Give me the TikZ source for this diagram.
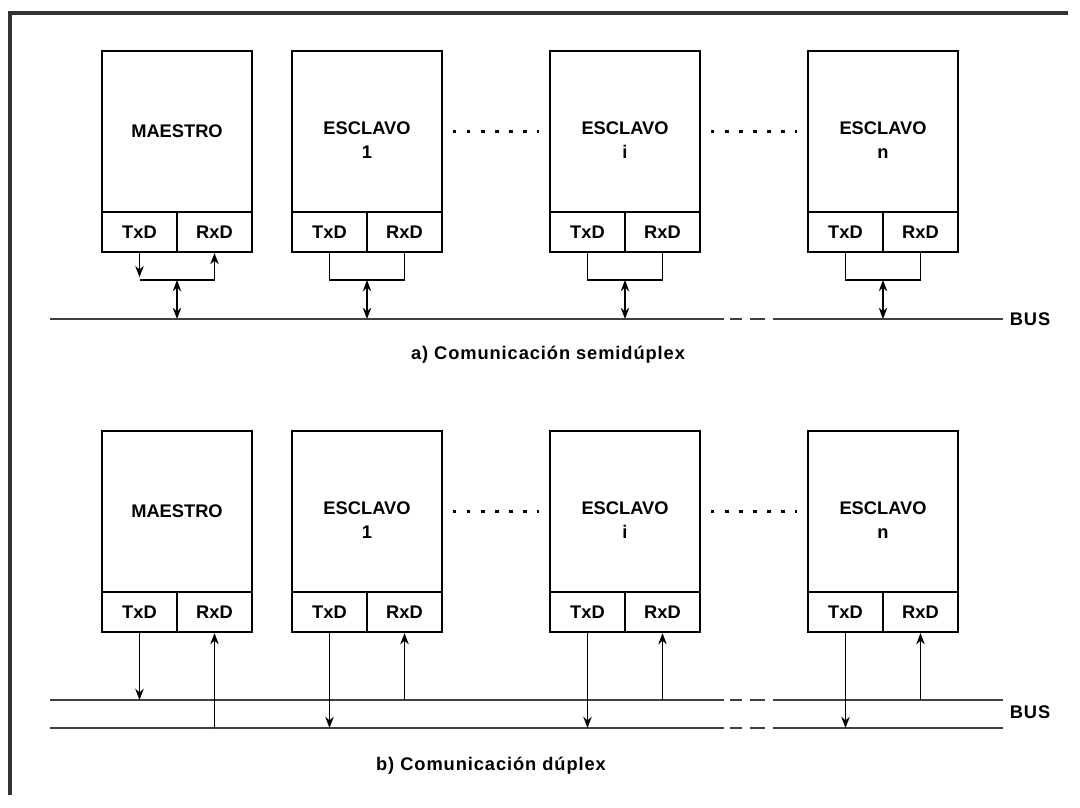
\documentclass[tikz,border=0pt]{standalone}
\usepackage{fontspec}
\setmainfont{Liberation Sans}
\usetikzlibrary{arrows.meta}

\begin{document}
\begin{tikzpicture}[x=0.025cm, y=-0.025cm, >={Stealth[length=8pt,width=6pt]},
  unitbox/.style={draw, line width=1.5pt, minimum width=3.75cm, minimum height=4.025cm,
    inner sep=0pt, align=center, font=\fontsize{13}{17}\selectfont\bfseries},
  portbox/.style={draw, line width=1.5pt, minimum width=1.875cm, minimum height=1cm,
    inner sep=0pt, font=\fontsize{13}{15}\selectfont\bfseries},
  wire/.style={line width=1.2pt},
  busline/.style={line width=2pt, black!75},
  dotrow/.style={line width=2pt, dash pattern=on 2.5pt off 7.5pt, shorten <=7pt, shorten >=7pt},
  caption/.style={font=\fontsize{13}{15}\selectfont\bfseries\addfontfeature{LetterSpace=5}}]

\useasboundingbox (0,0) rectangle (1080,808);
\draw[line width=2.2pt, black!80] (10,795) -- (10,13) -- (1068,13);

% a) semiduplex
\node[unitbox] (aM) at (177,131.5) {MAESTRO};
\node[portbox] (aTxM) at (139.5,232) {TxD};
\node[portbox] (aRxM) at (214.5,232) {RxD};

\node[unitbox] (aS1) at (367,131.5) {\rule{0pt}{21pt}ESCLAVO\\1};
\node[portbox] (aTx1) at (329.5,232) {TxD};
\node[portbox] (aRx1) at (404.5,232) {RxD};

\node[unitbox] (aSi) at (625,131.5) {\rule{0pt}{21pt}ESCLAVO\\i};
\node[portbox] (aTxi) at (587.5,232) {TxD};
\node[portbox] (aRxi) at (662.5,232) {RxD};

\node[unitbox] (aSn) at (883,131.5) {\rule{0pt}{21pt}ESCLAVO\\n};
\node[portbox] (aTxn) at (845.5,232) {TxD};
\node[portbox] (aRxn) at (920.5,232) {RxD};

\draw[dotrow] (aS1.east) -- (aSi.west);
\draw[dotrow] (aSi.east) -- (aSn.west);

\coordinate (busAw) at (50,319);
\coordinate (busAe) at (1003,319);
\draw[busline] (busAw) -- (724,319);
\draw[busline] (730,319) -- (742,319) (750,319) -- (765,319);
\draw[busline] (773,319) -- (busAe);
\node[caption] (aBus) at (1030,319) {BUS};

\coordinate (aBrM) at (177,280);
\coordinate (aBr1) at (367,280);
\coordinate (aBri) at (625,280);
\coordinate (aBrn) at (883,280);

\draw[wire, ->, shorten >=2pt] (aTxM.south) -- (aTxM.south |- aBrM);
\draw[wire] (aTxM.south |- aBrM) -- (aRxM.south |- aBrM);
\draw[wire, ->] (aRxM.south |- aBrM) -- (aRxM.south);
\draw[wire] (aTx1.south) |- (aBr1) -| (aRx1.south);
\draw[wire] (aTxi.south) |- (aBri) -| (aRxi.south);
\draw[wire] (aTxn.south) |- (aBrn) -| (aRxn.south);

\draw[wire, <->] (aBrM) -- (aBrM |- busAw);
\draw[wire, <->] (aBr1) -- (aBr1 |- busAw);
\draw[wire, <->] (aBri) -- (aBri |- busAw);
\draw[wire, <->] (aBrn) -- (aBrn |- busAw);

\node[caption] (capA) at (548,355) {a) Comunicación semidúplex};

% b) duplex
\node[unitbox] (bM) at (177,511.5) {MAESTRO};
\node[portbox] (bTxM) at (139.5,612) {TxD};
\node[portbox] (bRxM) at (214.5,612) {RxD};

\node[unitbox] (bS1) at (367,511.5) {\rule{0pt}{21pt}ESCLAVO\\1};
\node[portbox] (bTx1) at (329.5,612) {TxD};
\node[portbox] (bRx1) at (404.5,612) {RxD};

\node[unitbox] (bSi) at (625,511.5) {\rule{0pt}{21pt}ESCLAVO\\i};
\node[portbox] (bTxi) at (587.5,612) {TxD};
\node[portbox] (bRxi) at (662.5,612) {RxD};

\node[unitbox] (bSn) at (883,511.5) {\rule{0pt}{21pt}ESCLAVO\\n};
\node[portbox] (bTxn) at (845.5,612) {TxD};
\node[portbox] (bRxn) at (920.5,612) {RxD};

\draw[dotrow] (bS1.east) -- (bSi.west);
\draw[dotrow] (bSi.east) -- (bSn.west);

\coordinate (busBu) at (50,700);
\coordinate (busBl) at (50,728);
\draw[busline] (busBu) -- (724,700) (busBl) -- (724,728);
\draw[busline] (730,700) -- (742,700) (750,700) -- (765,700);
\draw[busline] (730,728) -- (742,728) (750,728) -- (765,728);
\draw[busline] (773,700) -- (1003,700) (773,728) -- (1003,728);
\node[caption] (bBus) at (1030,712) {BUS};

\draw[wire, ->] (bTxM.south) -- (bTxM.south |- busBu);
\draw[wire, ->] (bRxM.south |- busBl) -- (bRxM.south);
\draw[wire, ->] (bTx1.south) -- (bTx1.south |- busBl);
\draw[wire, ->] (bRx1.south |- busBu) -- (bRx1.south);
\draw[wire, ->] (bTxi.south) -- (bTxi.south |- busBl);
\draw[wire, ->] (bRxi.south |- busBu) -- (bRxi.south);
\draw[wire, ->] (bTxn.south) -- (bTxn.south |- busBl);
\draw[wire, ->] (bRxn.south |- busBu) -- (bRxn.south);

\node[caption] (capB) at (491,766) {b) Comunicación dúplex};

\end{tikzpicture}
\end{document}
